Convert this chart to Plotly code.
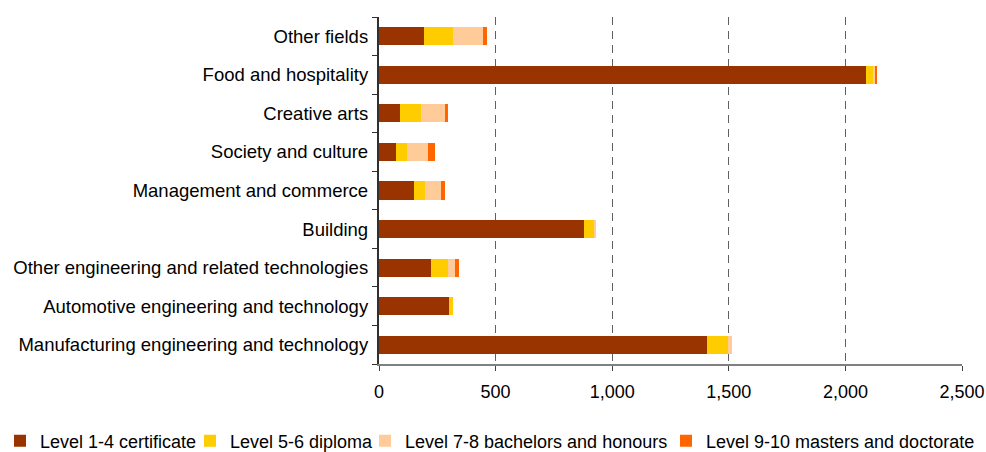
import plotly.graph_objects as go

categories = [
    "Manufacturing engineering and technology",
    "Automotive engineering and technology",
    "Other engineering and related technologies",
    "Building",
    "Management and commerce",
    "Society and culture",
    "Creative arts",
    "Food and hospitality",
    "Other fields",
]
level_1_4 = [1408, 302, 225, 881, 152, 71, 88, 2090, 195]
level_5_6 = [90, 17, 69, 43, 47, 47, 94, 30, 124]
level_7_8 = [17, 0, 34, 8, 65, 94, 103, 8, 129]
level_9_10 = [0, 0, 17, 0, 17, 26, 9, 9, 17]

series = [
    ("Level 1-4 certificate", level_1_4, "#993300"),
    ("Level 5-6 diploma", level_5_6, "#FFCC00"),
    ("Level 7-8 bachelors and honours", level_7_8, "#FFCC99"),
    ("Level 9-10 masters and doctorate", level_9_10, "#FF6600"),
]
x_ticks = [0, 500, 1000, 1500, 2000, 2500]

W, H = 986, 452
FAM = "Liberation Sans, Arial, sans-serif"
legend_ids = ["legend", "legend2", "legend3", "legend4"]
legend_text_x = [40, 230, 405, 706]  # where each legend label starts (px)

fig = go.Figure()
for (name, vals, color), lid in zip(series, legend_ids):
    fig.add_trace(go.Bar(
        y=categories, x=vals, name=name, orientation="h",
        marker=dict(color=color, line=dict(width=0)),
        legend=lid,
    ))

legend_cfg = {}
for lid, tx in zip(legend_ids, legend_text_x):
    legend_cfg[lid] = dict(
        orientation="h", xref="container", x=(tx - 40) / W, xanchor="left",
        yref="container", y=1 - 441 / H, yanchor="middle",
        font=dict(family=FAM, size=18), itemwidth=30,
        bgcolor="rgba(0,0,0,0)",
    )

fig.update_layout(
    barmode="stack",
    bargap=0.53,
    width=W, height=H,
    margin=dict(l=379, r=24, t=17, b=88, autoexpand=False),
    plot_bgcolor="white", paper_bgcolor="white",
    font=dict(family=FAM, size=18, color="#000000"),
    showlegend=True,
    xaxis=dict(range=[0, 2500], tickvals=x_ticks,
               ticktext=[f"{v:,}" for v in x_ticks],
               showgrid=True, gridcolor="#606060", griddash="8px,6px", gridwidth=1,
               zeroline=False, showline=True, linecolor="#808080", linewidth=2,
               ticks="outside", ticklen=5, tickcolor="#404040",
               ticklabelstandoff=5, automargin=False),
    yaxis=dict(showline=True, linecolor="#303030", linewidth=2,
               ticks="outside", ticklen=5, tickcolor="#303030",
               tickson="boundaries", showgrid=False, ticksuffix=" ",
               tickfont=dict(family=FAM, size=18.5),
               range=[-0.5, 8.5], automargin=False),
    **legend_cfg,
)
fig.write_html("out.html", config={"displayModeBar": False},
               post_script="document.body.style.margin='0';document.body.style.overflow='hidden';")
